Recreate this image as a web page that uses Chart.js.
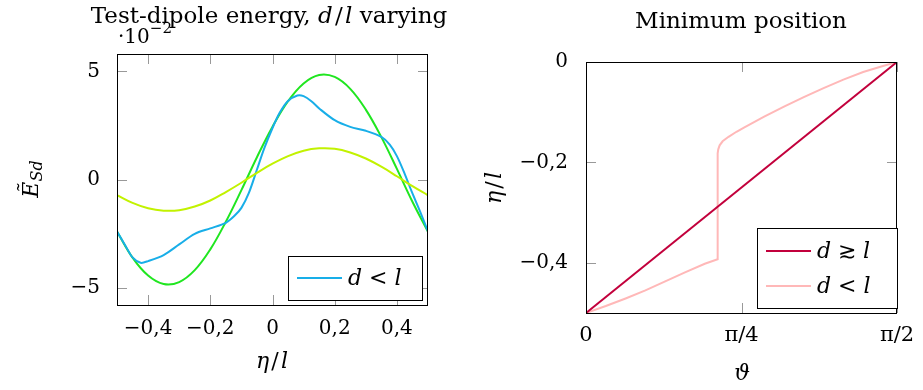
<!DOCTYPE html>
<html>
<head>
<meta charset="utf-8">
<script src="https://cdn.jsdelivr.net/npm/chart.js@4.4.1/dist/chart.umd.min.js"></script>
<style>
  body { margin: 0; background: #fff; }
  #wrap { position: relative; width: 923px; height: 390px; }
  canvas { position: absolute; top: 0; }
</style>
</head>
<body>
<div id="wrap">
  <canvas id="energy" width="460" height="390" style="left:0"></canvas>
  <canvas id="minpos" width="463" height="390" style="left:460px"></canvas>
</div>
<script>
/* ---------- data: test-dipole energy (values in units of 1e-2) ---------- */
const ETA = [-0.5, -0.45, -0.4, -0.35, -0.3, -0.25, -0.2, -0.15, -0.1, -0.05, 0,
             0.05, 0.1, 0.15, 0.2, 0.25, 0.3, 0.35, 0.4, 0.45, 0.5];
const E_GREEN = [-2.4, -3.61, -4.44, -4.83, -4.74, -4.19, -3.23, -1.95, -0.49, 1.03, 2.44,
                 3.62, 4.44, 4.83, 4.74, 4.19, 3.23, 1.96, 0.49, -1.03, -2.42];
const E_LIME = [-0.72, -1.08, -1.33, -1.44, -1.42, -1.25, -0.97, -0.58, -0.15, 0.31, 0.73,
                1.08, 1.33, 1.44, 1.42, 1.25, 0.97, 0.59, 0.15, -0.31, -0.73];

const ETA_BLUE = [-0.5, -0.472, -0.45, -0.424, -0.4, -0.35, -0.3, -0.25, -0.2, -0.15, -0.123,
                  -0.1, -0.076, -0.05, -0.026, 0, 0.023, 0.049, 0.08, 0.1, 0.125, 0.152,
                  0.2, 0.25, 0.3, 0.35, 0.377, 0.4, 0.426, 0.447, 0.474, 0.5];
const E_BLUE = [-2.4, -3.08, -3.6, -3.85, -3.77, -3.49, -3.0, -2.51, -2.26, -2.0, -1.69,
                -1.31, -0.62, 0.46, 1.46, 2.38, 3.08, 3.62, 3.88, 3.85, 3.62, 3.26,
                2.74, 2.43, 2.25, 1.97, 1.61, 1.08, 0.23, -0.54, -1.46, -2.4];

const ENERGY_X_TICKS = [-0.4, -0.2, 0, 0.2, 0.4];
const ENERGY_Y_TICKS = [-5, 0, 5];

/* ---------- data: minimum position ---------- */
const THETA_RED = [0, Math.PI / 2];
const POS_RED = [-0.5, 0];

const THETA_PINK = [0, 0.1, 0.2, 0.3, 0.4, 0.5, 0.6, 0.665, 0.665, 0.668, 0.675, 0.69, 0.72,
                    0.76, 0.8, 0.9, 1.0, 1.1, 1.2, 1.3, 1.4, 1.5, Math.PI / 2];
const POS_PINK = [-0.5, -0.486, -0.471, -0.455, -0.437, -0.419, -0.402, -0.393, -0.182, -0.174,
                  -0.166, -0.158, -0.149, -0.139, -0.130, -0.109, -0.089, -0.070, -0.052,
                  -0.035, -0.020, -0.008, 0];

const THETA_TICKS = [0, Math.PI / 4, Math.PI / 2];
const THETA_TICK_LABELS = ['0', 'π/4', 'π/2'];
const POS_Y_TICKS = [-0.4, -0.2, 0];

/* ---------- helpers ---------- */
const SERIF = '"DejaVu Serif", serif';
const SLASH = '\u200a/\u200a';

Chart.defaults.font.family = SERIF;
Chart.defaults.font.size = 20;
Chart.defaults.color = '#000';

function xy(xs, ys) {
  return xs.map((x, i) => ({ x, y: ys[i] }));
}

// pgfplots-style number: decimal comma and a real minus sign
function fmt(v) {
  if (Math.abs(v) < 1e-9) return '0';
  return (v < 0 ? '−' : '') + String(Math.abs(+v.toFixed(3))).replace('.', ',');
}

// a run is [text, style, size, dy]
function drawRuns(ctx, runs, x, y, align) {
  let total = 0;
  const widths = runs.map(([t, style, size]) => {
    ctx.font = `${style} ${size}px ${SERIF}`;
    const w = ctx.measureText(t).width;
    total += w;
    return w;
  });
  let cx = align === 'center' ? x - total / 2 : align === 'right' ? x - total : x;
  runs.forEach(([t, style, size, dy], i) => {
    ctx.font = `${style} ${size}px ${SERIF}`;
    ctx.fillText(t, cx, y + (dy || 0));
    cx += widths[i];
  });
}

// frame, inward ticks on all four sides, titles and an inside legend
const decor = {
  id: 'decor',
  afterDatasetsDraw(chart, args, opts) {
    const { ctx, chartArea: a, scales } = chart;
    ctx.save();
    ctx.strokeStyle = '#999';
    ctx.lineWidth = 1;
    ctx.beginPath();
    scales.x.ticks.forEach((t) => {
      const px = Math.round(scales.x.getPixelForValue(t.value)) + 0.5;
      ctx.moveTo(px, a.bottom); ctx.lineTo(px, a.bottom - 10);
      ctx.moveTo(px, a.top); ctx.lineTo(px, a.top + 10);
    });
    scales.y.ticks.forEach((t) => {
      const py = Math.round(scales.y.getPixelForValue(t.value)) + 0.5;
      ctx.moveTo(a.left, py); ctx.lineTo(a.left + 10, py);
      ctx.moveTo(a.right, py); ctx.lineTo(a.right - 10, py);
    });
    ctx.stroke();
    ctx.strokeStyle = '#000';
    ctx.strokeRect(Math.round(a.left) + 0.5, Math.round(a.top) + 0.5,
                   Math.round(a.right - a.left) - 1, Math.round(a.bottom - a.top));
    ctx.restore();
  },
  afterDraw(chart, args, opts) {
    const ctx = chart.ctx;
    ctx.save();
    ctx.fillStyle = '#000';
    ctx.textBaseline = 'alphabetic';
    ctx.textAlign = 'left';
    (opts.texts || []).forEach((t) => {
      if (t.rotate) {
        ctx.save();
        ctx.translate(t.x, t.y);
        ctx.rotate(-Math.PI / 2);
        drawRuns(ctx, t.runs, 0, 0, 'center');
        ctx.restore();
      } else {
        drawRuns(ctx, t.runs, t.x, t.y, t.align || 'left');
      }
    });
    const lg = opts.legend;
    if (lg) {
      ctx.fillStyle = '#fff';
      ctx.fillRect(lg.x, lg.y, lg.w, lg.h);
      ctx.strokeStyle = '#000';
      ctx.lineWidth = 1;
      ctx.strokeRect(lg.x + 0.5, lg.y + 0.5, lg.w, lg.h);
      lg.entries.forEach((e) => {
        const ds = chart.data.datasets[e.dataset];
        ctx.strokeStyle = ds.borderColor;
        ctx.lineWidth = 2;
        ctx.beginPath();
        ctx.moveTo(lg.x + 9, e.y);
        ctx.lineTo(lg.x + 54, e.y);
        ctx.stroke();
        ctx.fillStyle = '#000';
        drawRuns(ctx, e.runs, lg.x + 60, e.y + 7, 'left');
      });
    }
    ctx.restore();
  },
};

function lineSet(data, color, extra) {
  return Object.assign({
    data,
    borderColor: color,
    borderWidth: 2,
    pointRadius: 0,
    fill: false,
  }, extra);
}

const commonPlugins = { legend: { display: false }, tooltip: { enabled: false } };

/* ---------- left chart ---------- */
new Chart(document.getElementById('energy'), {
  type: 'line',
  data: {
    datasets: [
      lineSet(xy(ETA, E_LIME), '#c2f200', { tension: 0.4 }),
      lineSet(xy(ETA_BLUE, E_BLUE), '#18aee8', { label: 'd < l', tension: 0.3 }),
      lineSet(xy(ETA, E_GREEN), '#20e620', { tension: 0.4 }),
    ],
  },
  plugins: [decor],
  options: {
    responsive: false,
    animation: false,
    devicePixelRatio: 1,
    layout: { padding: { top: 54, right: 32, left: 0, bottom: 0 } },
    scales: {
      x: {
        type: 'linear', min: -0.5, max: 0.5,
        grid: { display: false }, border: { display: false },
        afterBuildTicks: (s) => { s.ticks = ENERGY_X_TICKS.map((value) => ({ value })); },
        afterFit: (s) => { s.height = 85; },
        ticks: { callback: (v) => fmt(v), padding: 4, autoSkip: false, maxRotation: 0 },
      },
      y: {
        type: 'linear', min: -5.8, max: 5.8,
        grid: { display: false }, border: { display: false },
        afterBuildTicks: (s) => { s.ticks = ENERGY_Y_TICKS.map((value) => ({ value })); },
        afterFit: (s) => { s.width = 117; },
        ticks: { callback: (v) => fmt(v), padding: 9 },
      },
    },
    plugins: Object.assign({
      decor: {
        texts: [
          { x: 269, y: 23, align: 'center', runs: [
            ['Test-dipole energy, ', 'normal', 23], ['d', 'italic', 23], [SLASH, 'normal', 23],
            ['l', 'italic', 23], [' varying', 'normal', 23]] },
          { x: 118, y: 43, runs: [['·10', 'normal', 20], ['−2', 'normal', 15, -10]] },
          { x: 272, y: 368, align: 'center', runs: [['η', 'italic', 22], [SLASH, 'normal', 22], ['l', 'italic', 22]] },
          { x: 38, y: 179, rotate: true, runs: [['E\u0303', 'italic', 22], ['Sd', 'italic', 16, 4]] },
        ],
        legend: {
          x: 288, y: 256, w: 134, h: 44,
          entries: [{ dataset: 1, y: 278, runs: [['d', 'italic', 22], [' < ', 'normal', 22], ['l', 'italic', 22]] }],
        },
      },
    }, commonPlugins),
  },
});

/* ---------- right chart ---------- */
new Chart(document.getElementById('minpos'), {
  type: 'line',
  data: {
    datasets: [
      lineSet(xy(THETA_RED, POS_RED), '#c2003c', { label: 'd ≳ l', tension: 0 }),
      lineSet(xy(THETA_PINK, POS_PINK), '#ffb8b8', { label: 'd < l', tension: 0 }),
    ],
  },
  plugins: [decor],
  options: {
    responsive: false,
    animation: false,
    devicePixelRatio: 1,
    layout: { padding: { top: 62, right: 26, left: 0, bottom: 0 } },
    scales: {
      x: {
        type: 'linear', min: 0, max: Math.PI / 2,
        grid: { display: false }, border: { display: false },
        afterBuildTicks: (s) => { s.ticks = THETA_TICKS.map((value) => ({ value })); },
        afterFit: (s) => { s.height = 77; },
        ticks: {
          callback: (v, i) => THETA_TICK_LABELS[i],
          font: { size: 21 },
          padding: 2, autoSkip: false, maxRotation: 0,
        },
      },
      y: {
        type: 'linear', min: -0.5, max: 0,
        grid: { display: false }, border: { display: false },
        afterBuildTicks: (s) => { s.ticks = POS_Y_TICKS.map((value) => ({ value })); },
        afterFit: (s) => { s.width = 126; },
        ticks: { callback: (v) => fmt(v), padding: 10 },
      },
    },
    plugins: Object.assign({
      decor: {
        texts: [
          { x: 281, y: 28, align: 'center', runs: [['Minimum position', 'normal', 23]] },
          { x: 282, y: 380, align: 'center', runs: [['ϑ', 'italic', 22]] },
          { x: 41, y: 188, rotate: true, runs: [['η', 'italic', 22], [SLASH, 'normal', 22], ['l', 'italic', 22]] },
        ],
        legend: {
          x: 297, y: 228, w: 140, h: 80,
          entries: [
            { dataset: 0, y: 251, runs: [['d', 'italic', 22], [' ≳ ', 'normal', 22], ['l', 'italic', 22]] },
            { dataset: 1, y: 286, runs: [['d', 'italic', 22], [' < ', 'normal', 22], ['l', 'italic', 22]] },
          ],
        },
      },
    }, commonPlugins),
  },
});
</script>
</body>
</html>
